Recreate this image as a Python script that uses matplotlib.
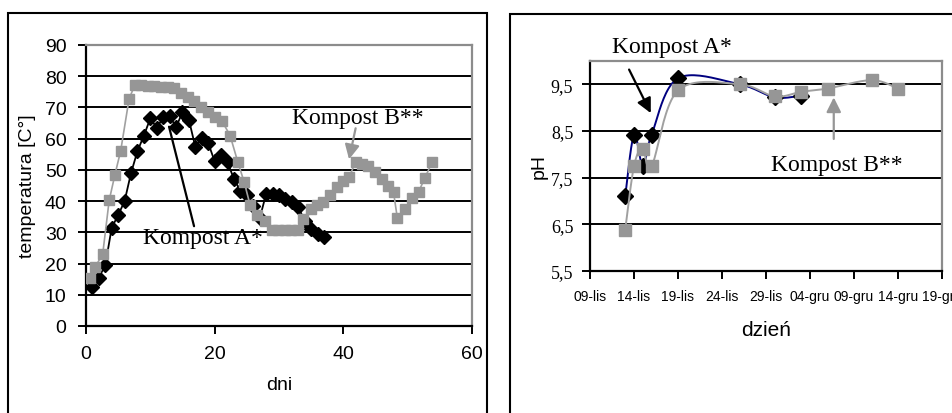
import numpy as np
import matplotlib
matplotlib.use("Agg")
import matplotlib.pyplot as plt
from matplotlib.patches import Rectangle

plt.rcParams['font.family'] = ['Liberation Sans', 'DejaVu Sans']
SERIF = ['Liberation Serif', 'DejaVu Serif']

# --- temperatura (lewy wykres) ---
dni_a = list(range(1, 38))
temp_a = [12.5, 15.5, 19.5, 31.5, 35.5, 40.0, 49.0, 56.0, 61.0, 66.5,
          63.5, 66.8, 67.3, 63.7, 68.5, 66.0, 57.3, 60.2, 58.6, 52.7,
          54.8, 52.4, 47.1, 43.2, 41.8, 38.5, 34.5, 42.3, 42.3, 42.0,
          40.7, 39.6, 38.2, 33.5, 31.1, 29.5, 28.4]

dni_b = [0.6, 1.4, 2.6, 3.6, 4.5, 5.4, 6.7, 7.6, 8.6, 9.6,
         10.6, 11.6, 12.7, 13.7, 14.7, 15.8, 16.8, 17.9, 18.9, 20.1,
         21.1, 22.4, 23.6, 24.6, 25.5, 26.6, 27.8, 28.9, 29.9, 30.9,
         31.9, 32.9, 33.8, 34.9, 35.9, 36.9, 38.0, 39.0, 40.0, 40.9,
         41.9, 42.9, 43.9, 45.0, 46.0, 47.0, 47.8, 48.4, 49.6, 50.6,
         51.7, 52.7, 53.8]
temp_b = [15.5, 18.8, 23.1, 40.2, 48.5, 56.2, 72.8, 77.2, 77.2, 77.0,
          76.8, 76.6, 76.6, 76.2, 74.5, 73.3, 72.2, 70.0, 68.5, 67.0,
          65.8, 61.0, 52.5, 46.0, 38.8, 35.4, 33.5, 30.6, 30.6, 30.6,
          30.6, 30.6, 34.3, 37.5, 38.6, 39.7, 41.8, 44.5, 46.3, 47.7,
          52.5, 52.0, 51.4, 49.3, 47.1, 45.0, 42.9, 34.5, 37.5, 41.0,
          43.0, 47.5, 52.5]

# --- pH (prawy wykres), dni liczone od 09-lis ---
ph_dni_a = [4, 5, 6, 7, 10, 17, 21, 24]
ph_a = [7.1, 8.42, 7.75, 8.42, 9.63, 9.5, 9.22, 9.26]
ph_dni_b = [4, 5, 6, 7, 10, 17, 21, 24, 27, 32, 35]
ph_b = [6.38, 7.75, 8.12, 7.75, 9.37, 9.5, 9.24, 9.34, 9.41, 9.59, 9.41]
daty = ['09-lis', '14-lis', '19-lis', '24-lis', '29-lis',
        '04-gru', '09-gru', '14-gru', '19-gru']
ph_ticks = [5.5, 6.5, 7.5, 8.5, 9.5]
ph_labels = ['5,5', '6,5', '7,5', '8,5', '9,5']

GREY = '#969696'
GREY_LINE = '#a0a0a0'
BORDER = '#8c8c8c'


def smooth(x, y, sx, sy, n=25):
	# wygładzanie jak w Excelu (krzywe Beziera przez punkty)
	p = np.column_stack([np.asarray(x, float) * sx, np.asarray(y, float) * sy])
	p = np.vstack([p[0], p, p[-1]])
	t = np.linspace(0, 1, n)[:, None]
	out = []
	for i in range(1, len(p) - 2):
		p0, p1, p2, p3 = p[i - 1], p[i], p[i + 1], p[i + 2]
		c1 = p1 + (p2 - p0) / 6
		c2 = p2 - (p3 - p1) / 6
		out.append((1 - t) ** 3 * p1 + 3 * (1 - t) ** 2 * t * c1
		           + 3 * (1 - t) * t ** 2 * c2 + t ** 3 * p2)
	out = np.vstack(out)
	return out[:, 0] / sx, out[:, 1] / sy


def style_axes(ax):
	for s in ['left', 'bottom']:
		ax.spines[s].set_color('black')
		ax.spines[s].set_linewidth(1.6)
	for s in ['top', 'right']:
		ax.spines[s].set_color(BORDER)
		ax.spines[s].set_linewidth(1.6)
	ax.tick_params(direction='out', length=6, width=1.4, color='black')


fig = plt.figure(figsize=(9.53, 4.14), dpi=100)

# ramki wykresów
fig.add_artist(Rectangle((8 / 953, -0.05), 479 / 953, 1.05 - 14 / 414,
                         transform=fig.transFigure, fill=False,
                         ec='black', lw=1.5))
fig.add_artist(Rectangle((510 / 953, -0.05), 0.6, 1.05 - 15 / 414,
                         transform=fig.transFigure, fill=False,
                         ec='black', lw=1.5))

# lewy wykres
ax1 = fig.add_axes([86 / 953, 87 / 414, 386 / 953, 281 / 414])
style_axes(ax1)
ax1.set_xlim(0, 60)
ax1.set_ylim(0, 90)
ax1.set_xticks([0, 20, 40, 60])
ax1.set_yticks(range(0, 100, 10))
for g in range(10, 90, 10):
	ax1.axhline(g, color='black', lw=1.4, zorder=1)
ax1.tick_params(labelsize=14, pad=8)
ax1.plot(dni_a, temp_a, color='black', lw=1.3, marker='D', ms=7,
         mec='black', mfc='black', zorder=3)
ax1.plot(dni_b, temp_b, color=GREY_LINE, lw=1.2, marker='s', ms=7,
         mec=GREY, mfc=GREY, zorder=4)
ax1.set_xlabel('dni', fontsize=14, labelpad=10)
ax1.set_ylabel('temperatura [C°]', fontsize=14, labelpad=6)
ax1.annotate('', xy=(12.8, 64.7), xytext=(16.9, 31.1),
             arrowprops=dict(arrowstyle='-', color='black', lw=1.6), zorder=5)
ax1.text(18.2, 28.2, 'Kompost A*', family=SERIF, fontsize=17,
         ha='center', va='center', zorder=6)
ax1.annotate('', xy=(40.8, 52.5), xytext=(42.0, 64.2),
             arrowprops=dict(arrowstyle='-|>', color=GREY, lw=1.6,
                             mutation_scale=22), zorder=5)
ax1.text(42.3, 66.9, 'Kompost B**', family=SERIF, fontsize=17,
         ha='center', va='center', zorder=6)

# prawy wykres
ax2 = fig.add_axes([590 / 953, 142 / 414, 352 / 953, 210 / 414])
style_axes(ax2)
ax2.set_xlim(0, 40)
ax2.set_ylim(5.5, 10.0)
ax2.set_xticks(range(0, 41, 5))
ax2.set_xticklabels(daty, fontsize=10)
ax2.set_yticks(ph_ticks)
ax2.set_yticklabels(ph_labels, family=SERIF, fontsize=13)
ax2.tick_params(axis='x', pad=7)
ax2.tick_params(axis='y', pad=6)
for g in ph_ticks[1:]:
	ax2.axhline(g, color='black', lw=1.4, zorder=1)
xs, ys = smooth(ph_dni_a, ph_a, 8.8, 46.5)
ax2.plot(xs, ys, color='#000080', lw=1.4, zorder=3)
ax2.plot(ph_dni_a, ph_a, ls='none', marker='D', ms=8, color='black', zorder=3)
xs, ys = smooth(ph_dni_b, ph_b, 8.8, 46.5)
ax2.plot(xs, ys, color=GREY_LINE, lw=1.4, zorder=4)
ax2.plot(ph_dni_b, ph_b, ls='none', marker='s', ms=8, color=GREY, zorder=4)
ax2.set_xlabel('dzień', fontsize=15, labelpad=12)
ax2.set_ylabel('pH', fontsize=14, labelpad=2)
ax2.text(9.3, 10.3, 'Kompost A*', family=SERIF, fontsize=17,
         ha='center', va='center', clip_on=False)
ax2.annotate('', xy=(7.05, 8.83), xytext=(4.3, 9.87), annotation_clip=False,
             arrowprops=dict(arrowstyle='-|>', color='black', lw=1.6,
                             mutation_scale=22))
ax2.annotate('', xy=(27.7, 9.28), xytext=(27.7, 8.27),
             arrowprops=dict(arrowstyle='-|>', color=GREY, lw=1.6,
                             mutation_scale=22))
ax2.text(28.1, 7.78, 'Kompost B**', family=SERIF, fontsize=17,
         ha='center', va='center')

fig.savefig('out.png', dpi=100)
